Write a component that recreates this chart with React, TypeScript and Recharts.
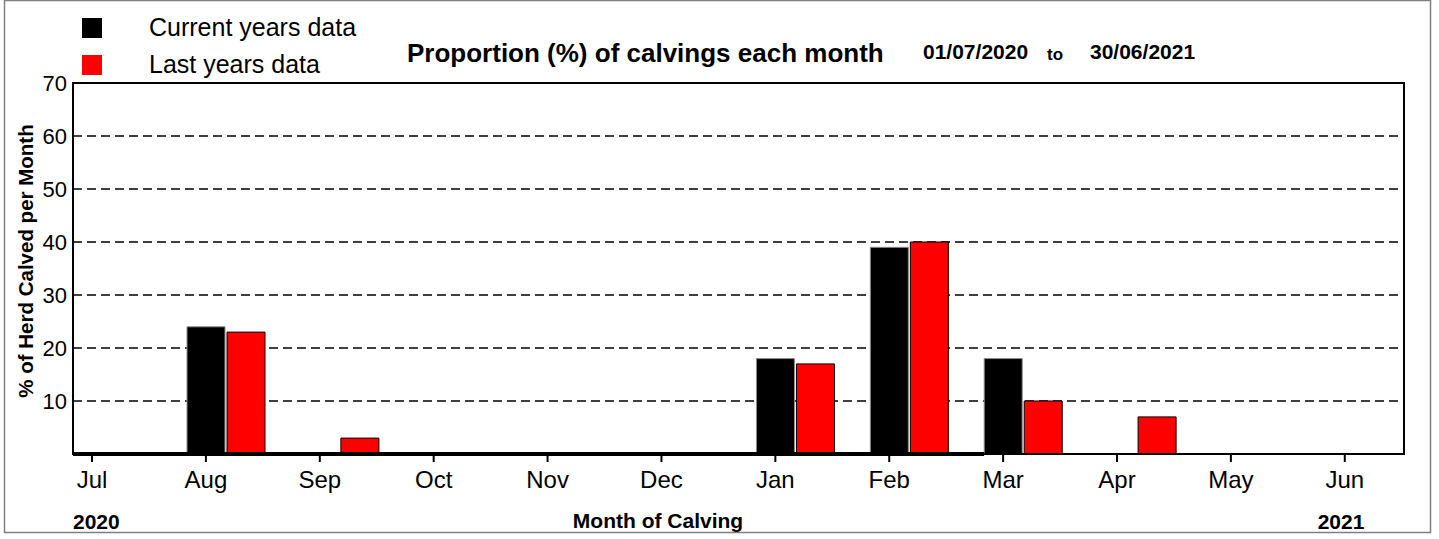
import {
  BarChart,
  Bar,
  XAxis,
  YAxis,
  CartesianGrid,
  ReferenceArea,
  ReferenceLine,
  Legend,
} from 'recharts';

const MONTHS = ['Jul', 'Aug', 'Sep', 'Oct', 'Nov', 'Dec', 'Jan', 'Feb', 'Mar', 'Apr', 'May', 'Jun'];
const CURRENT_YEARS = [0, 24, 0, 0, 0, 0, 18, 39, 18, null, null, null];
const LAST_YEARS = [0, 23, 3, 0, 0, 0, 17, 40, 10, 7, 0, 0];
const Y_TICKS = [10, 20, 30, 40, 50, 60, 70];

const FONT = '"Liberation Sans", Arial, sans-serif';

// x axis runs in month units, Jul = 0
const X_MIN = -0.167;
const X_MAX = 11.52;
// bar group sits half a group to the right of the month tick
const BAR_SHIFT = 0.176;

const data = MONTHS.map((month, idx) => ({
  month,
  idx,
  current: CURRENT_YEARS[idx],
  last: LAST_YEARS[idx],
}));

const renderLegend = ({ payload }: any) => (
  <div style={{ fontFamily: FONT }}>
    {(payload || []).map((item: any) => (
      <div key={item.value} style={{ display: 'flex', alignItems: 'center', height: 37 }}>
        <span style={{ width: 20, height: 20, background: item.color, display: 'inline-block' }} />
        <span style={{ marginLeft: 47, fontSize: 25, color: '#000', lineHeight: '25px' }}>{item.value}</span>
      </div>
    ))}
  </div>
);

export default function App() {
  return (
    <div style={{ position: 'absolute', left: 0, top: 0, width: 1439, height: 539, background: '#fff' }}>
      <BarChart
        width={1439}
        height={539}
        data={data}
        margin={{ top: 83, right: 35, left: 13, bottom: 45 }}
        barGap={2}
      >
        <CartesianGrid
          vertical={false}
          stroke="#000"
          strokeDasharray="9 5"
          strokeWidth={1.6}
          yAxisId="pct"
          xAxisId="months"
        />
        <XAxis
          xAxisId="months"
          dataKey="idx"
          type="number"
          domain={[X_MIN, X_MAX]}
          ticks={data.map((d) => d.idx)}
          tickFormatter={(v: number) => MONTHS[v]}
          interval={0}
          height={40}
          axisLine={{ stroke: '#000', strokeWidth: 2 }}
          tickLine={{ stroke: '#000', strokeWidth: 2 }}
          tickSize={8}
          tickMargin={9}
          tick={{ fontSize: 24, fill: '#000', fontFamily: FONT }}
          allowDataOverflow
        />
        <XAxis
          xAxisId="bars"
          dataKey="idx"
          type="number"
          domain={[X_MIN - BAR_SHIFT, X_MAX - BAR_SHIFT]}
          ticks={data.map((d) => d.idx)}
          height={0}
          allowDataOverflow
          hide
        />
        <YAxis
          yAxisId="pct"
          width={60}
          domain={[0, 70]}
          ticks={Y_TICKS}
          interval={0}
          axisLine={{ stroke: '#000', strokeWidth: 2 }}
          tickLine={false}
          tickSize={0}
          tickMargin={6}
          tick={{ fontSize: 22, fill: '#000', fontFamily: FONT }}
        />
        <Legend
          layout="vertical"
          align="center"
          verticalAlign="middle"
          content={renderLegend}
          wrapperStyle={{ position: 'absolute', left: 82, top: 9, width: 320 }}
        />
        <Bar
          xAxisId="bars"
          yAxisId="pct"
          dataKey="current"
          name="Current years data"
          fill="#000000"
          stroke="#8c8c8c"
          strokeWidth={1}
          barSize={38}
          isAnimationActive={false}
        />
        <Bar
          xAxisId="bars"
          yAxisId="pct"
          dataKey="last"
          name="Last years data"
          fill="#ff0000"
          stroke="#000"
          strokeWidth={1}
          barSize={38}
          isAnimationActive={false}
        />
        <ReferenceLine
          xAxisId="months"
          yAxisId="pct"
          segment={[
            { x: X_MIN, y: 0 },
            { x: 8 + X_MIN, y: 0 },
          ]}
          stroke="#000"
          strokeWidth={4}
        />
        <ReferenceArea
          xAxisId="months"
          yAxisId="pct"
          x1={X_MIN}
          x2={X_MAX}
          y1={0}
          y2={70}
          fill="none"
          stroke="#000"
          strokeWidth={2}
          ifOverflow="visible"
        />
      </BarChart>

      <svg
        width={1439}
        height={539}
        style={{ position: 'absolute', left: 0, top: 0, pointerEvents: 'none' }}
        fontFamily={FONT}
      >
        <rect x={4.5} y={0.5} width={1426} height={532} fill="none" stroke="#808080" strokeWidth={1.5} />
        <text x={407} y={62} fontSize={26} fontWeight="bold" fill="#000">
          Proportion (%) of calvings each month
        </text>
        <text x={923} y={59} fontSize={21} fontWeight="bold" fill="#000">
          01/07/2020
        </text>
        <text x={1047} y={60} fontSize={17} fontWeight="bold" fill="#000">
          to
        </text>
        <text x={1090} y={59} fontSize={21} fontWeight="bold" fill="#000">
          30/06/2021
        </text>
        <text
          x={33}
          y={261}
          fontSize={20.5}
          fontWeight="bold"
          fill="#000"
          textAnchor="middle"
          transform="rotate(-90, 33, 261)"
        >
          % of Herd Calved per Month
        </text>
        <text x={73} y={529} fontSize={21} fontWeight="bold" fill="#000">
          2020
        </text>
        <text x={658} y={528} fontSize={21} fontWeight="bold" fill="#000" textAnchor="middle">
          Month of Calving
        </text>
        <text x={1341} y={529} fontSize={21} fontWeight="bold" fill="#000" textAnchor="middle">
          2021
        </text>
      </svg>
    </div>
  );
}
